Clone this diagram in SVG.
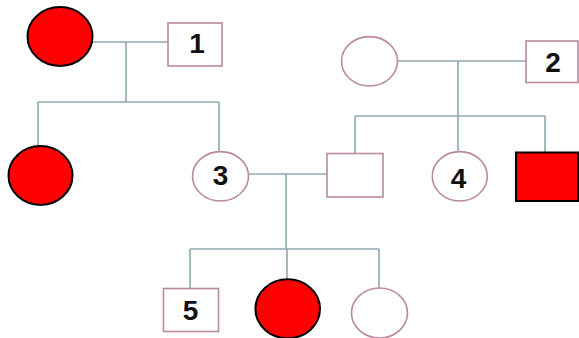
<svg xmlns="http://www.w3.org/2000/svg" width="579" height="338" viewBox="0 0 579 338">
<style>
.bg{fill:#ffffff}
.line{stroke:#8fa7b2;stroke-width:1.6;fill:none}
.node{fill:#ffffff;stroke:#b98a9f;stroke-width:1.6}
.aff{fill:#ff0000;stroke:#000000;stroke-width:2}
.lbl{font-family:"Liberation Sans",Arial,sans-serif;font-weight:bold;font-size:28px;fill:#111111;text-anchor:middle}
</style>
<rect class="bg" x="0" y="0" width="579" height="338"/>
<g id="connectors">
  <path class="line" d="M93 42 H168"/>
  <path class="line" d="M126 42 V102"/>
  <path class="line" d="M38 102 H219"/>
  <path class="line" d="M38 102 V146"/>
  <path class="line" d="M219 102 V152"/>
  <path class="line" d="M397 61 H526"/>
  <path class="line" d="M458 61 V116"/>
  <path class="line" d="M355 116 H545"/>
  <path class="line" d="M355 116 V153"/>
  <path class="line" d="M458 116 V152"/>
  <path class="line" d="M545 116 V152"/>
  <path class="line" d="M248 174 H327"/>
  <path class="line" d="M286 174 V249"/>
  <path class="line" d="M190 249 H379"/>
  <path class="line" d="M190 249 V288"/>
  <path class="line" d="M287 249 V279"/>
  <path class="line" d="M379 249 V288"/>
</g>
<g id="gen1-female-left"><ellipse class="aff" cx="60" cy="36.5" rx="32.5" ry="29.5"/></g>
<g id="node-1"><rect class="node" x="168" y="23" width="54" height="43"/><text class="lbl" x="197" y="53">1</text></g>
<g id="gen1-female-right"><ellipse class="node" cx="369.5" cy="61.3" rx="28" ry="24.7"/></g>
<g id="node-2"><rect class="node" x="526" y="41" width="52" height="41.5"/><text class="lbl" x="553" y="71.5">2</text></g>
<g id="gen2-female-affected"><ellipse class="aff" cx="40.5" cy="175.5" rx="32" ry="29.5"/></g>
<g id="node-3"><ellipse class="node" cx="220.5" cy="176.3" rx="28" ry="24.7"/><text class="lbl" x="220.5" y="185">3</text></g>
<g id="gen2-male"><rect class="node" x="327" y="153.5" width="56" height="43.5"/></g>
<g id="node-4"><ellipse class="node" cx="459.8" cy="176.3" rx="27.5" ry="24.7"/><text class="lbl" x="458.5" y="188">4</text></g>
<g id="gen2-male-affected"><rect class="aff" x="516" y="152.5" width="62" height="48.5"/></g>
<g id="node-5"><rect class="node" x="163.5" y="288.5" width="55" height="43"/><text class="lbl" x="190.5" y="320">5</text></g>
<g id="gen3-female-affected"><ellipse class="aff" cx="287.7" cy="308.8" rx="32.3" ry="29.5"/></g>
<g id="gen3-female"><ellipse class="node" cx="379.5" cy="313" rx="28" ry="25"/></g>
</svg>
